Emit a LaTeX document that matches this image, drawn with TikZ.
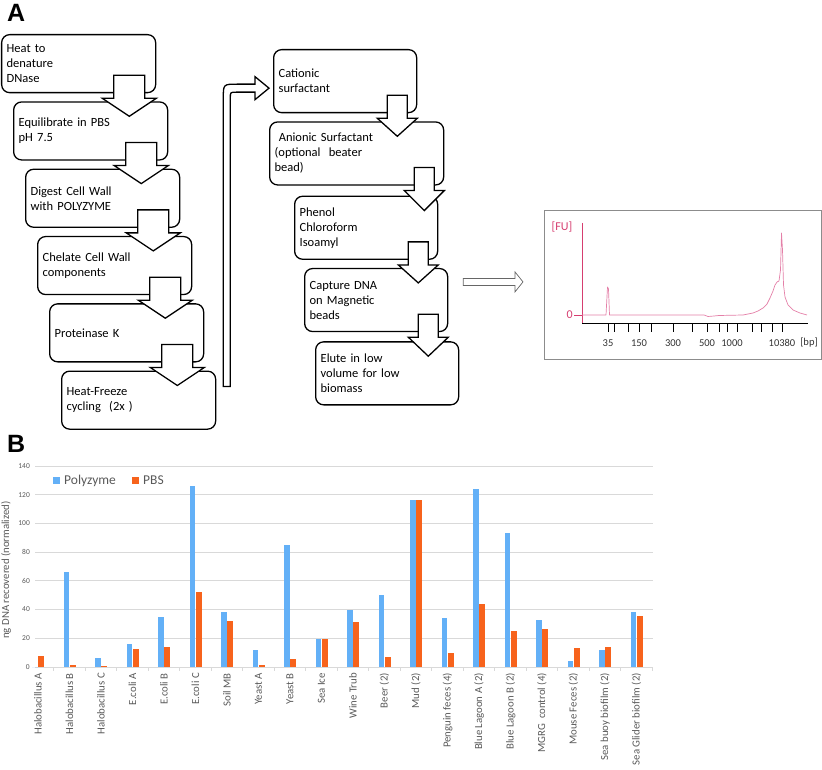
\documentclass[tikz,border=0pt]{standalone}
\usepackage{fontspec}
\setmainfont{Carlito}
\newfontfamily\headfont{Liberation Sans}
\usetikzlibrary{positioning,calc}

\definecolor{polyblue}{RGB}{99,176,247}
\definecolor{pbsorange}{RGB}{247,99,28}
\definecolor{chartgrey}{RGB}{89,89,89}
\definecolor{gridgrey}{RGB}{217,217,217}
\definecolor{fuaxis}{RGB}{214,62,112}
\definecolor{futrace}{RGB}{228,128,168}

% block arrow from box #1 down into box #2 (shaft half, head half)
\newcommand{\flowdown}[4]{%
  \coordinate (fa) at ($(#1.south east)+(-#4,0)$);
  \coordinate (fb) at (fa |- #2.north);
  \draw[flowarrow] ($(fa)+(-#3,-18)$) -- ($(fa)+(#3,-18)$) -- ($(fa)+(#3,5)$)
    -- ($(fa)+(#4,5)$) -- ($(fb)+(0,15)$) -- ($(fa)+(-#4,5)$) -- ($(fa)+(-#3,5)$) -- cycle;
}

\begin{document}
\begin{tikzpicture}[x=1pt,y=-1pt,
    stepbox/.style={rectangle,draw,line width=1.3pt,rounded corners=8pt,
      align=left,text width=144pt,minimum height=58pt,inner xsep=5pt,inner ysep=2pt,
      font=\fontsize{12.5}{15}\selectfont},
    midbox/.style={stepbox,text width=133pt,minimum height=63pt},
    flowarrow/.style={draw,fill=white,line width=1.3pt},
    gelarrow/.style={draw=black!60,fill=white,line width=0.7pt},
    panel/.style={font=\headfont\bfseries\fontsize{25}{25}\selectfont,anchor=base west,inner sep=0pt},
    ticklab/.style={font=\fontsize{7.5}{8}\selectfont,text=chartgrey,anchor=east,inner sep=1pt},
    catlab/.style={font=\fontsize{10.8}{12}\selectfont,text=chartgrey,rotate=90,anchor=east,inner sep=0pt},
    leglab/.style={font=\fontsize{13.5}{15}\selectfont,text=chartgrey,anchor=west,inner sep=0pt},
    bplab/.style={font=\fontsize{10.5}{12}\selectfont,text=black!80,inner sep=0pt}]
\useasboundingbox (0,0) rectangle (822,770);

\node[panel] (labA) at (7,22) {A};

% left column
\node[stepbox,anchor=north west] (heat) at (1,34) {Heat to\\denature\\DNase};
\node[stepbox,below right=8pt and 12pt of heat.south west] (equil) {Equilibrate in PBS\\pH 7.5};
\node[stepbox,below right=8pt and 12pt of equil.south west] (digest) {Digest Cell Wall\\with POLYZYME};
\node[stepbox,below right=8pt and 12pt of digest.south west] (chelate) {Chelate Cell Wall\\components};
\node[stepbox,below right=8pt and 12pt of chelate.south west] (protk) {Proteinase K};
\node[stepbox,below right=8pt and 12pt of protk.south west] (cycle) {Heat-Freeze\\cycling~~(2x )};

% middle column
\node[midbox,anchor=north west] (cationic) at (273,49) {Cationic\\surfactant};
\node[midbox,text width=164pt,below right=8pt and -4pt of cationic.south west] (anionic) {~Anionic Surfactant\\(optional~~beater\\bead)};
\node[midbox,below right=10pt and 25pt of anionic.south west] (phenol) {Phenol\\Chloroform\\Isoamyl};
\node[midbox,below right=8pt and 10pt of phenol.south west] (capture) {Capture DNA\\on Magnetic\\beads};
\node[midbox,below right=9pt and 11pt of capture.south west] (elute) {Elute in low\\volume for low\\biomass};

\flowdown{heat}{equil}{15.5}{27}
\flowdown{equil}{digest}{15.5}{27}
\flowdown{digest}{chelate}{15.5}{27}
\flowdown{chelate}{protk}{15.5}{27}
\flowdown{protk}{cycle}{15.5}{27}
\flowdown{cationic}{anionic}{10}{20}
\flowdown{anionic}{phenol}{10}{20}
\flowdown{phenol}{capture}{10}{20}
\flowdown{capture}{elute}{10}{20}

% bent arrow up to the second column
\coordinate (loopfoot) at ($(cycle.north east)+(10.5,16)$);
\coordinate (looptip) at ($(cationic.west)+(-4,7)$);
\coordinate (loopbend) at (loopfoot |- looptip);
\draw[flowarrow] ($(loopfoot)+(-3.5,0)$) -- ($(loopbend)+(-3.5,10)$)
  .. controls ($(loopbend)+(-3.5,-4)$) .. ($(loopbend)+(10.5,-4)$)
  -- ($(looptip)+(-14,-4)$) -- ($(looptip)+(-14,-11.5)$) -- (looptip)
  -- ($(looptip)+(-14,11.5)$) -- ($(looptip)+(-14,4)$) -- ($(loopbend)+(9.5,4)$)
  .. controls ($(loopbend)+(3.5,4)$) .. ($(loopbend)+(3.5,10)$)
  -- ($(loopfoot)+(3.5,0)$) -- cycle;

% electropherogram
\node[draw=black!45,line width=0.7pt,minimum width=277pt,minimum height=149pt,inner sep=0pt,anchor=north west] (gel) at (544,210) {};
\coordinate (gelstart) at ($(capture.north east)+(15,14)$);
\coordinate (geltip) at ($(gel.west |- gelstart)+(-21,0)$);
\draw[gelarrow] ($(gelstart)+(0,-3.5)$) -- ($(geltip)+(-8,-3.5)$) -- ($(geltip)+(-8,-10)$) -- (geltip)
  -- ($(geltip)+(-8,10)$) -- ($(geltip)+(-8,3.5)$) -- ($(gelstart)+(0,3.5)$) -- cycle;

\draw[fuaxis,line width=0.8pt] (582,223) -- (582,323);
\draw[fuaxis,line width=0.8pt] (574,315) -- (582,315);
\node[text=fuaxis,font=\fontsize{12}{14}\selectfont,inner sep=0pt] (fu) at (562,227) {[FU]};
\node[text=fuaxis,font=\fontsize{12}{14}\selectfont,inner sep=0pt,anchor=east] (zero) at (573,315) {0};
\draw[line width=0.8pt] (582,323) -- (808,323);
\foreach \t in {608,614,628,639,651,673,692,707,719,727,737,752,761,772,782}
  \draw[line width=0.6pt] (\t,323) -- (\t,332);
\foreach \t/\v in {608/35,639/150,673/300,707/500,732/1000,782/10380}
  \node[bplab] (bp\v) at (\t,343) {\v};
\node[bplab] (bpunit) at (809,343) {[bp]};
\draw[futrace,line width=0.7pt,line join=round] (582,315) -- (606,315) -- (607.5,287) -- (608.5,289)
  -- (609.5,315) -- (704,315) -- (708,316.5) -- (714,316) -- (719,315.5) -- (743,315) -- (748,314)
  -- (753,313) -- (758,311) -- (763,308) -- (767,304) -- (770,298) -- (773,291) -- (775,285)
  -- (777,282) -- (779,281) -- (780.5,270) -- (781.5,233) -- (782.5,250) -- (783.5,285)
  -- (785,297) -- (788,305) -- (793,310) -- (800,313) -- (807,315);

% bar chart
\node[panel] (labB) at (7,452) {B};
\foreach \v in {20,40,...,140}
  \draw[gridgrey,line width=0.8pt] (35,667-1.436*\v) -- (653,667-1.436*\v);
\foreach \v in {0,20,...,140}
  \node[ticklab] (tick\v) at (31,667-1.436*\v) {\v};
\draw[gridgrey,line width=0.8pt] (35,667) -- (653,667);
\foreach \i in {1,...,20}
  \draw[gridgrey,line width=0.8pt] (22+31.5*\i,667) -- (22+31.5*\i,671);
\node[font=\fontsize{10.8}{12}\selectfont,text=chartgrey,rotate=90] (ytitle) at (6,570) {ng DNA recovered (normalized)};

\foreach \lab/\pv/\bv [count=\i from 0] in {Halobacillus A/0/7.7, Halobacillus B/66/1.4,
    Halobacillus C/6/0.5, E.coli A/16/12.5, E.coli B/35/14, E.coli C/126/52, Soil MB/38/32,
    Yeast A/12/1.4, Yeast B/85/5.5, Sea Ice/19.3/19.3, Wine Trub/40/31, Beer (2)/50/7,
    Mud (2)/116/116, Penguin feces (4)/34/10, Blue Lagoon A (2)/124/44, Blue Lagoon B (2)/93/25,
    MGRG\ \ control (4)/32.7/26.5, Mouse Feces (2)/4/13, Sea buoy biofilm (2)/12/13.8,
    Sea Glider biofilm (2)/38/35.5}{
  \pgfmathsetmacro\cx{38+31.5*\i}
  \fill[polyblue] (\cx-6,667) rectangle (\cx-0.3,667-1.436*\pv);
  \fill[pbsorange] (\cx+0.3,667) rectangle (\cx+6,667-1.436*\bv);
  \node[catlab] (cat\i) at (\cx,673) {\lab};
}

% legend
\fill[polyblue] (53,477) rectangle (60,484);
\node[leglab] (legpoly) at (64,480.5) {Polyzyme};
\fill[pbsorange] (132,477) rectangle (139,484);
\node[leglab] (legpbs) at (143,480.5) {PBS};
\end{tikzpicture}
\end{document}
